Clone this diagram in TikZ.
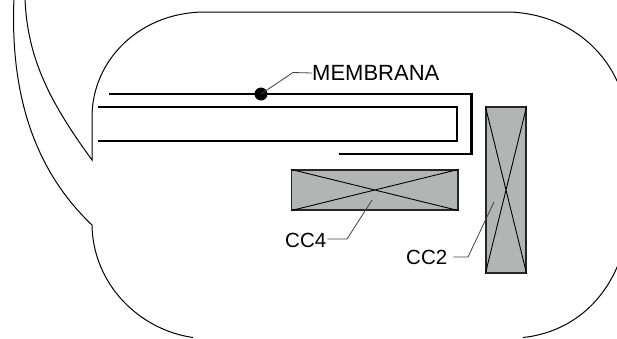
\documentclass[tikz,border=0pt]{standalone}
\usepackage{fontspec}
\setmainfont{Liberation Sans}
\begin{document}
\begin{tikzpicture}[x=1pt,y=-1pt,
  outline/.style={draw=black,line width=1pt},
  wall/.style={draw=black,line width=2.4pt,line join=miter},
  coil/.style={draw=black!85,fill=coilgray,line width=1.2pt},
  cross/.style={draw=black,line width=0.9pt},
  leader/.style={draw=black!75,line width=0.8pt},
  lbl/.style={inner sep=0pt,font=\fontsize{22}{24}\selectfont,text=black,anchor=west}]
\definecolor{coilgray}{RGB}{179,181,181}
\useasboundingbox (0,0) rectangle (617,338);
\clip (0,0) rectangle (617,338);
% housing outline
\draw[outline] (25,-2) .. controls (27,60) and (52,105) .. (92,160) -- (92,117)
  .. controls (92,60) and (140,12) .. (205,12) -- (510,12)
  .. controls (560,14) and (600,42) .. (618,83);
\draw[outline] (14,-2) .. controls (10,90) and (32,168) .. (92,225)
  .. controls (93,285) and (140,330) .. (193,337.5);
\draw[outline] (618,265) .. controls (600,308) and (565,333) .. (523,337.5);
% membrane
\coordinate (mA) at (109,94);
\coordinate (mB) at (471.5,94);
\coordinate (mC) at (471.5,154);
\coordinate (mD) at (339,154);
\coordinate (iA) at (98,107);
\coordinate (iB) at (457,107);
\coordinate (iC) at (457,141);
\coordinate (iD) at (98,141);
\draw[wall] (mA) -- (mB) -- (mC) -- (mD);
\draw[wall] (iA) -- (iB) -- (iC) -- (iD);
\node[circle,fill=black,inner sep=0pt,minimum size=13pt] (dot) at (261,94) {};
\node[lbl] (mem) at (312,73) {MEMBRANA};
\draw[leader] (dot.center) -- (293,72.5) -- (mem.west);
% coils
\node[coil,minimum width=166.5pt,minimum height=40pt,inner sep=0pt] (cc4box) at (374.75,190) {};
\draw[cross] (cc4box.north west) -- (cc4box.south east) (cc4box.south west) -- (cc4box.north east);
\node[coil,minimum width=40pt,minimum height=166pt,inner sep=0pt] (cc2box) at (506,190) {};
\draw[cross] (cc2box.north west) -- (cc2box.south east) (cc2box.south west) -- (cc2box.north east);
% labels
\node[lbl,font=\fontsize{20.5}{22}\selectfont] (cc4) at (285,240) {CC4};
\coordinate (cc4t) at (372,200);
\draw[leader] (cc4.east) ++(1,-1) -- (347,239) -- (cc4t);
\node[lbl,font=\fontsize{20.5}{22}\selectfont] (cc2) at (406,257.5) {CC2};
\coordinate (cc2t) at (494,202);
\draw[leader] (cc2.east) ++(6,-0.5) -- (468,257) -- (cc2t);
\end{tikzpicture}
\end{document}
